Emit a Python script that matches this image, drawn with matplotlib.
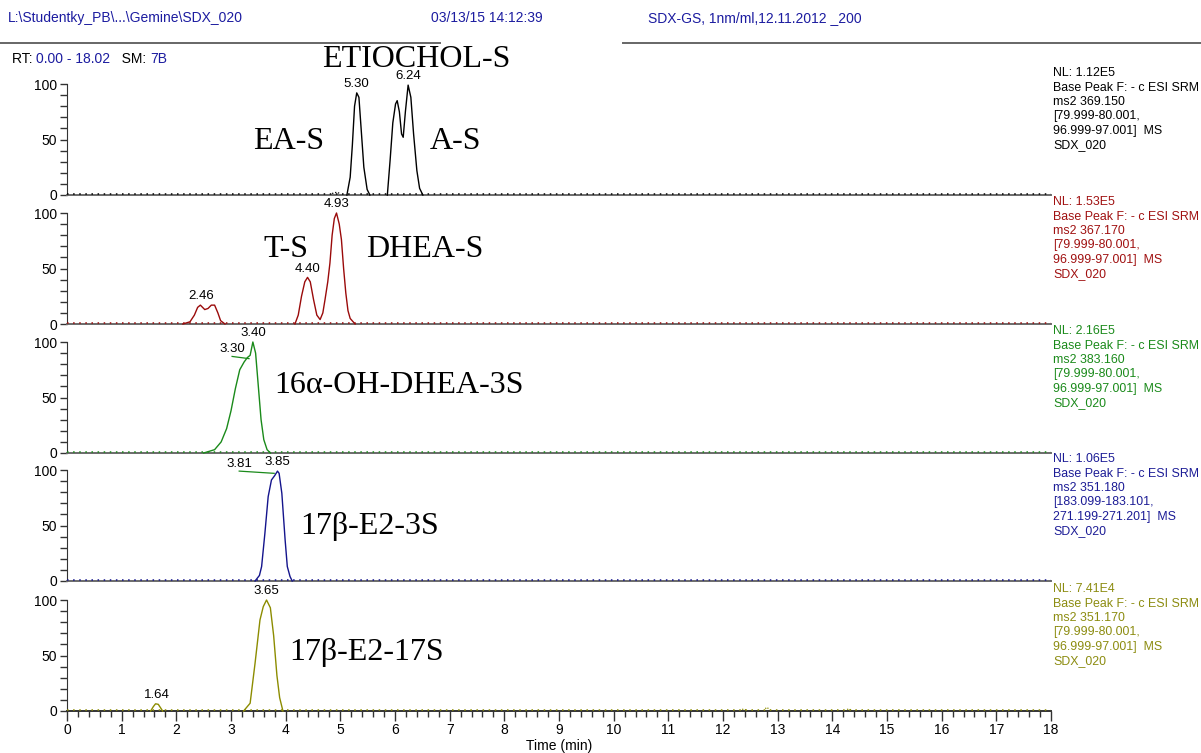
import matplotlib
matplotlib.use("Agg")
import matplotlib.pyplot as plt
import matplotlib.ticker as ticker
from matplotlib.lines import Line2D

plt.rcParams["font.family"] = ["Liberation Sans", "DejaVu Sans"]

W, H = 1201, 753

# ---- data (time in min, relative abundance in %) ----
ETIO_A_T = [5.12, 5.18, 5.22, 5.26, 5.30, 5.34, 5.38, 5.43, 5.49, 5.54]
ETIO_A_Y = [0, 16, 45, 80, 92, 88, 60, 25, 5, 0]
ETIO_B_T = [5.86, 5.91, 5.96, 6.01, 6.04, 6.08, 6.12, 6.15, 6.19, 6.24, 6.29, 6.34, 6.40, 6.45, 6.51]
ETIO_B_Y = [0, 31, 65, 82, 85, 75, 55, 52, 75, 99, 88, 55, 22, 6, 0]

TS_SMALL_T = [2.12, 2.25, 2.33, 2.39, 2.44, 2.52, 2.58, 2.64, 2.70, 2.76, 2.81, 2.89]
TS_SMALL_Y = [0, 2, 8, 15, 17, 13, 14, 17, 17, 10, 3, 0]
TS_MAIN_T = [4.17, 4.23, 4.29, 4.35, 4.40, 4.45, 4.51, 4.57, 4.63, 4.68, 4.72, 4.77,
             4.81, 4.85, 4.89, 4.93, 4.98, 5.02, 5.06, 5.10, 5.14, 5.18, 5.27]
TS_MAIN_Y = [0, 8, 25, 38, 42, 38, 22, 8, 4, 10, 22, 38,
             55, 80, 95, 100, 90, 76, 50, 28, 12, 5, 0]

OH_T = [2.50, 2.70, 2.82, 2.92, 3.00, 3.08, 3.16, 3.24, 3.30, 3.35, 3.40, 3.45, 3.50, 3.55, 3.60, 3.66, 3.72]
OH_Y = [0, 3, 10, 22, 38, 58, 75, 82, 86, 88, 100, 90, 60, 30, 12, 3, 0]

E23S_T = [3.44, 3.52, 3.56, 3.62, 3.68, 3.74, 3.80, 3.85, 3.88, 3.93, 3.99, 4.03, 4.08, 4.12]
E23S_Y = [0, 5, 13, 43, 76, 91, 95, 99, 97, 79, 37, 13, 4, 0]

E217S_SMALL_T = [1.53, 1.58, 1.62, 1.67, 1.71, 1.75]
E217S_SMALL_Y = [0, 4, 6.5, 6, 3, 0]
E217S_MAIN_T = [3.23, 3.35, 3.44, 3.53, 3.59, 3.65, 3.72, 3.78, 3.84, 3.89, 3.95]
E217S_MAIN_Y = [0, 7, 43, 82, 94, 100, 93, 68, 32, 12, 0]

# small noise bumps drawn dotted
NOISE_1_T, NOISE_1_Y = [4.80, 4.88, 4.95, 5.02], [0, 2, 2.5, 0]
NOISE_5_T = [12.30, 12.38, 12.45, 12.74, 12.80, 12.88, 14.22, 14.30, 14.38]
NOISE_5_Y = [0, 2, 0, 0, 3.5, 0, 0, 2, 0]

PEAKS = [
    [(ETIO_A_T, ETIO_A_Y), (ETIO_B_T, ETIO_B_Y)],
    [(TS_SMALL_T, TS_SMALL_Y), (TS_MAIN_T, TS_MAIN_Y)],
    [(OH_T, OH_Y)],
    [(E23S_T, E23S_Y)],
    [(E217S_SMALL_T, E217S_SMALL_Y), (E217S_MAIN_T, E217S_MAIN_Y)],
]
NOISE = [[(NOISE_1_T, NOISE_1_Y)], [], [], [], [(NOISE_5_T, NOISE_5_Y)]]

# peak RT labels: (time, apex)
PEAK_LABELS = [
    [(5.30, 92), (6.24, 99)],
    [(2.46, 17), (4.40, 42), (4.93, 100)],
    [(3.40, 100)],
    [(3.85, 99)],
    [(1.64, 6.5), (3.65, 100)],
]
# labels set off to the side with a leader line: (text, label x, label y, point x, point y)
SIDE_LABELS = [
    [], [],
    [("3.30", 3.02, 88, 3.33, 85)],
    [("3.81", 3.15, 100, 3.79, 97)],
    [],
]

COMPOUNDS = [
    [("ETIOCHOL-S", 4.66, 122.5), ("EA-S", 3.40, 48.5), ("A-S", 6.64, 48.5)],
    [("T-S", 3.60, 67.5), ("DHEA-S", 5.47, 67.5)],
    [("16α-OH-DHEA-3S", 3.80, 60.5)],
    [("17β-E2-3S", 4.26, 49.5)],
    [("17β-E2-17S", 4.06, 52.5)],
]

NL = ["1.12E5", "1.53E5", "2.16E5", "1.06E5", "7.41E4"]
PRECURSOR = ["369.150", "367.170", "383.160", "351.180", "351.170"]
WINDOWS = [
    "[79.999-80.001,\n96.999-97.001]  MS",
    "[79.999-80.001,\n96.999-97.001]  MS",
    "[79.999-80.001,\n96.999-97.001]  MS",
    "[183.099-183.101,\n271.199-271.201]  MS",
    "[79.999-80.001,\n96.999-97.001]  MS",
]

TRACE_COLORS = ["#000000", "#9a0a0a", "#1a8a1a", "#14148c", "#8c8c00"]
INFO_COLORS = ["#000000", "#a01010", "#1a8a1a", "#1c1c96", "#8c8c10"]
LABEL_COLOR = "#1c1ca0"
AXIS_GREY = "#6a6a6a"

BASELINES_PX = [195, 324, 453, 581, 711]
PANEL_PX = 129
YTOP = 100 * PANEL_PX / 111

fig = plt.figure(figsize=(W / 100, H / 100), dpi=100)
left = 67 / W
width = (1051 - 67) / W

axes = []
for i, b in enumerate(BASELINES_PX):
    ax = fig.add_axes([left, 1 - b / H, width, PANEL_PX / H])
    ax.patch.set_alpha(0)
    ax.set_xlim(0, 18)
    ax.set_ylim(0, YTOP)
    for side in ("top", "right"):
        ax.spines[side].set_visible(False)
    ax.spines["left"].set_bounds(0, 100)
    ax.spines["left"].set_color("#333333")
    ax.spines["bottom"].set_color(AXIS_GREY)
    ax.spines["bottom"].set_linewidth(1.4)
    ax.yaxis.set_major_locator(ticker.FixedLocator([0, 50, 100]))
    ax.yaxis.set_minor_locator(ticker.FixedLocator(range(0, 101, 10)))
    ax.tick_params(axis="y", which="both", direction="out", length=5, width=1,
                   color="#333333", labelsize=10, pad=2)
    ax.set_zorder(10 - i)
    axes.append(ax)

for i, ax in enumerate(axes):
    c = TRACE_COLORS[i]
    ax.plot([0, 18], [1.3, 1.3], color=c, lw=1.1, ls=(0, (1, 3)), clip_on=False, zorder=4)
    for t, y in NOISE[i]:
        ax.plot(t, y, color=c, lw=0.9, ls=(0, (1, 1.5)))
    for t, y in PEAKS[i]:
        ax.plot(t, y, color=c, lw=1.0, clip_on=False, zorder=5)
    for t, y in PEAK_LABELS[i]:
        ax.annotate(f"{t:.2f}", (t, y), xytext=(0, 2), textcoords="offset points",
                    ha="center", va="bottom", fontsize=9.5, annotation_clip=False)
    for txt, lx, ly, px, py in SIDE_LABELS[i]:
        ax.text(lx, ly, txt, ha="center", va="bottom", fontsize=9.5, clip_on=False)
        ax.plot([lx, px], [ly - 1, py], color="#1a8a1a", lw=0.9, clip_on=False)
    for txt, x, y in COMPOUNDS[i]:
        ax.text(x, y, txt, ha="left", va="center", fontsize=23,
                family=["Liberation Serif", "DejaVu Serif"], clip_on=False)
    info = (f"NL: {NL[i]}\nBase Peak F: - c ESI SRM\nms2 {PRECURSOR[i]}\n"
            f"{WINDOWS[i]}\nSDX_020")
    ax.text(18.04, YTOP - 1, info, ha="left", va="top", fontsize=8.9,
            color=INFO_COLORS[i], linespacing=1.27, clip_on=False)

for ax in axes[:-1]:
    ax.tick_params(axis="x", which="both", bottom=False, labelbottom=False)

bx = axes[-1]
bx.spines["bottom"].set_color("#333333")
bx.xaxis.set_major_locator(ticker.MultipleLocator(1))
bx.xaxis.set_minor_locator(ticker.MultipleLocator(0.2))
bx.tick_params(axis="x", which="major", direction="out", length=7, width=1,
               color="#333333", labelsize=10, pad=2)
bx.tick_params(axis="x", which="minor", direction="out", length=4, width=1, color="#333333")
bx.set_xlabel("Time (min)", fontsize=10, labelpad=1)

# header
fig.text(8 / W, 1 - 18 / H, r"L:\Studentky_PB\...\Gemine\SDX_020", color=LABEL_COLOR,
         fontsize=10, va="center")
fig.text(431 / W, 1 - 18 / H, "03/13/15 14:12:39", color=LABEL_COLOR, fontsize=10, va="center")
fig.text(648 / W, 1 - 18 / H, "SDX-GS, 1nm/ml,12.11.2012 _200", color=LABEL_COLOR,
         fontsize=10, va="center")
fig.add_artist(Line2D([0, 440 / W], [1 - 43 / H] * 2, color="#666666", lw=1.4))
fig.add_artist(Line2D([623 / W, 1], [1 - 43 / H] * 2, color="#666666", lw=1.4))

rt_parts = [("RT: ", "black"), ("0.00 - 18.02", LABEL_COLOR), ("   SM: ", "black"),
            ("7B", LABEL_COLOR)]
fig.canvas.draw()
x = 12 / W
for txt, col in rt_parts:
    t = fig.text(x, 1 - 59 / H, txt, color=col, fontsize=10, va="center")
    bb = t.get_window_extent(renderer=fig.canvas.get_renderer())
    x += bb.width / W

fig.savefig("out.png", dpi=100)
